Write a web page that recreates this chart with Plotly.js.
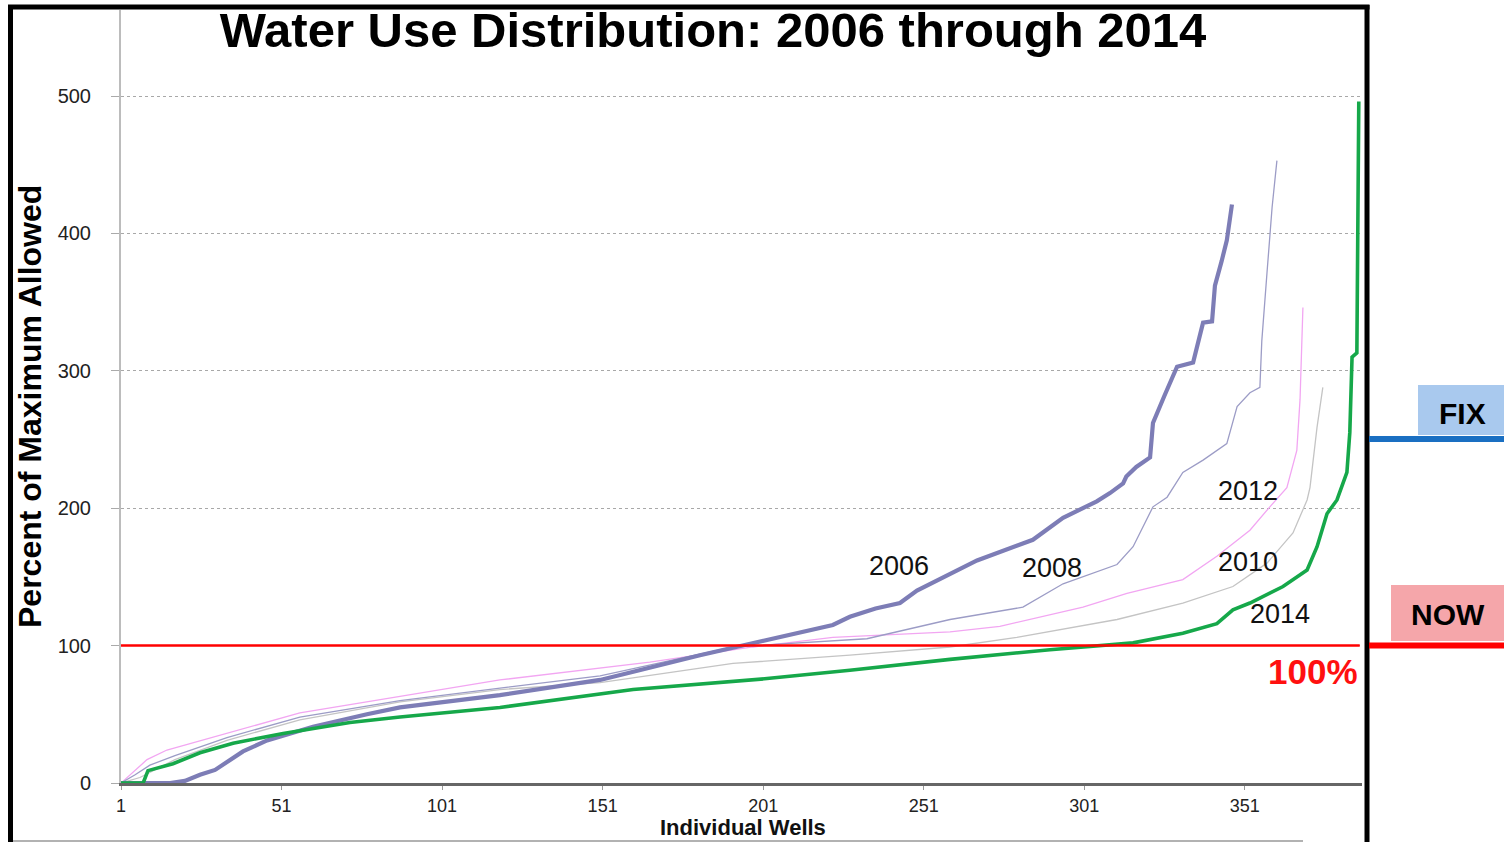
<!DOCTYPE html>
<html>
<head>
<meta charset="utf-8">
<script src="https://cdn.plot.ly/plotly-3.0.1.min.js"></script>
<style>html,body{margin:0;padding:0;background:#fff;}#chart{width:1504px;height:842px;}</style>
</head>
<body>
<div id="chart"></div>
<script>
// ---- data ----
const wells2006 = [1, 16.3, 20.9, 25.6, 30.3, 34.0, 39.0, 46.5, 60.8, 77.6, 87.9, 119.0, 150.2, 181.3, 197.8, 222.7, 228.0, 236.0, 243.6, 248.9, 267.6, 285.0, 294.4, 300.6, 304.9, 309.0, 313.1, 314.1, 317.2, 321.5, 322.4, 326.0, 329.9, 334.9, 338.0, 340.8, 341.7, 343.8, 345.4, 347.0];
const use2006   = [0, 0, 1.5, 6, 9.5, 15, 23, 31, 41, 50, 55, 64, 75, 93, 102, 115, 121, 127, 131, 140, 162, 177, 193, 200, 205, 211, 218, 223, 230, 237, 262, 282, 303, 306, 335, 336, 362, 380, 395, 421];

const wells2008 = [1, 5.4, 10, 17.8, 34, 56.7, 87.9, 119, 150.2, 191.6, 233.3, 259.2, 281.9, 294.4, 311.2, 316.2, 319.3, 322.4, 326.8, 331.7, 338, 345.4, 348.6, 352.6, 355.7, 356.3, 357.9, 359.5, 361];
const use2008   = [0, 6, 13, 20, 33, 48, 60, 69, 78, 99, 105, 119, 128, 145, 159, 172, 186, 201, 208, 226, 235, 247, 274, 284, 288, 322, 371, 419, 453];

const wells2010 = [1, 5.4, 9.1, 15.3, 34, 56.7, 87.9, 119, 165.7, 197.8, 222.7, 259.2, 274.7, 300.6, 314.3, 331.7, 342.3, 352.6, 358.8, 364.1, 367.2, 368.2, 369.1];
const use2010   = [0, 9, 17, 24, 36, 51, 63, 75, 88, 99, 106, 110, 114, 128, 138, 148, 165, 184, 201, 215, 242, 279, 346];

const wells2012 = [1, 6.9, 17.8, 34, 56.7, 87.9, 119, 150.2, 191.6, 228, 259.2, 280, 311.2, 331.7, 347.3, 357.9, 366, 370.4, 371.3, 373.5, 375.3];
const use2012   = [0, 4, 17, 31, 46, 59, 68, 73, 87, 93, 99, 106, 119, 131, 143, 160, 182, 206, 215, 259, 288];

const wells2014 = [1, 7.9, 9.4, 17.2, 25.6, 35.9, 51.5, 72.3, 87.9, 119, 160.5, 202.2, 228, 259.2, 290.3, 316.2, 331.7, 342.3, 347.3, 352.6, 362.9, 370.4, 373.5, 376.6, 379.7, 382.8, 383.7, 384.4, 385.9, 386.5];
const use2014   = [0, 0, 9, 14, 22, 29, 36, 44, 48, 55, 68, 76, 82, 90, 97, 102, 109, 116, 126, 131, 143, 155, 172, 196, 206, 226, 255, 310, 313, 496];

const yearLabels = ["2006", "2008", "2012", "2010", "2014"];
const labelX = [243.3, 290.9, 352.0, 352.0, 362.0];
const labelY = [157.9, 156.5, 212.5, 160.8, 123.0];
const limitValue = 100;

// ---- traces ----
const traces = [
  {x: wells2012, y: use2012, name: "2012", mode: "lines", line: {color: "#c4c4c4", width: 1.3}},
  {x: wells2010, y: use2010, name: "2010", mode: "lines", line: {color: "#f2a6f2", width: 1.3}},
  {x: wells2008, y: use2008, name: "2008", mode: "lines", line: {color: "#9c9cc6", width: 1.3}},
  {x: wells2006, y: use2006, name: "2006", mode: "lines", line: {color: "#7d7db6", width: 4.2}},
  {x: wells2014, y: use2014, name: "2014", mode: "lines", line: {color: "#16a84a", width: 3.6}}
];

const font = "Liberation Sans, Arial, sans-serif";
const px = v => (v - 121) / 1241;
const py = v => (783 - v) / 773;

const annotations = yearLabels.map((t, i) => ({
  text: t, x: labelX[i], y: labelY[i], xref: "x", yref: "y",
  xanchor: "center", yanchor: "middle",
  showarrow: false, font: {family: font, size: 27, color: "#111"}
}));
annotations.push(
  {text: "<b>100%</b>", x: 372.2, y: 80.8, xref: "x", yref: "y", showarrow: false,
   xanchor: "center", yanchor: "middle",
   font: {family: font, size: 35, color: "#ff1010"}},
  {text: "<b>Percent of Maximum Allowed</b>", textangle: -90, x: px(30), y: py(407),
   xref: "paper", yref: "paper", showarrow: false, xanchor: "center", yanchor: "middle",
   font: {family: font, size: 32, color: "#000"}},
  {text: "<b>Individual Wells</b>", x: px(743), y: py(828), xref: "paper", yref: "paper",
   showarrow: false, xanchor: "center", yanchor: "middle",
   font: {family: font, size: 22, color: "#111"}},
  {text: "<b>FIX</b>", x: px(1462), y: py(413), xref: "paper", yref: "paper",
   xanchor: "center", yanchor: "middle",
   showarrow: false, font: {family: font, size: 30, color: "#000"}},
  {text: "<b>NOW</b>", x: px(1448), y: py(614), xref: "paper", yref: "paper",
   xanchor: "center", yanchor: "middle",
   showarrow: false, font: {family: font, size: 30, color: "#000"}}
);

const shapes = [
  // 100% limit line
  {type: "line", xref: "x", yref: "y", x0: 1, x1: 386.8, y0: limitValue, y1: limitValue,
   line: {color: "#ff0000", width: 2.5}},
  // outer black frame
  {type: "line", xref: "paper", yref: "paper", x0: px(10.5), x1: px(10.5), y0: py(5), y1: py(860), line: {color: "#000", width: 5}},
  {type: "line", xref: "paper", yref: "paper", x0: px(8), x1: px(1369.5), y0: py(7), y1: py(7), line: {color: "#000", width: 5}},
  {type: "line", xref: "paper", yref: "paper", x0: px(1367), x1: px(1367), y0: py(5), y1: py(860), line: {color: "#000", width: 5}},
  // bottom cut edge
  {type: "line", xref: "paper", yref: "paper", x0: px(13), x1: px(1303), y0: py(841), y1: py(841), line: {color: "#999", width: 1.5}},
  // FIX box and blue line
  {type: "rect", xref: "paper", yref: "paper", x0: px(1418), x1: px(1504), y0: py(435), y1: py(385),
   fillcolor: "#a9c9ee", line: {width: 0}},
  {type: "line", xref: "paper", yref: "paper", x0: px(1369), x1: px(1504), y0: py(439), y1: py(439),
   line: {color: "#1a6fc2", width: 6}},
  // NOW box and red line
  {type: "rect", xref: "paper", yref: "paper", x0: px(1391), x1: px(1504), y0: py(641), y1: py(585),
   fillcolor: "#f5a6aa", line: {width: 0}},
  {type: "line", xref: "paper", yref: "paper", x0: px(1369), x1: px(1504), y0: py(645.5), y1: py(645.5),
   line: {color: "#ff0000", width: 6}}
];

const layout = {
  width: 1504, height: 842,
  margin: {l: 121, r: 142, t: 10, b: 59, pad: 0},
  paper_bgcolor: "#fff", plot_bgcolor: "#fff",
  showlegend: false,
  title: {text: "<b>Water Use Distribution: 2006 through 2014</b>",
    xref: "paper", x: 0.477, xanchor: "center", yref: "container", y: 1 - 30/842, yanchor: "middle",
    font: {family: font, size: 49, color: "#000"}},
  xaxis: {range: [1, 387.5], tick0: 1, dtick: 50, showgrid: false, zeroline: false,
    showline: true, linecolor: "#666", linewidth: 2.5,
    ticks: "outside", ticklen: 4, tickcolor: "#999", tickwidth: 1,
    ticklabelstandoff: 1,
    tickfont: {family: font, size: 18, color: "#222"}},
  yaxis: {range: [0, 562.6], tick0: 0, dtick: 100, showgrid: true, gridcolor: "#a8a8a8",
    griddash: "dot", gridwidth: 1, zeroline: false,
    showline: true, linecolor: "#bcbcbc", linewidth: 2,
    ticks: "outside", ticklen: 8, tickcolor: "#aaa", tickwidth: 1,
    ticklabelstandoff: 16,
    tickfont: {family: font, size: 20, color: "#222"}},
  annotations: annotations,
  shapes: shapes
};

Plotly.newPlot("chart", traces, layout, {staticPlot: true, displayModeBar: false});
</script>
</body>
</html>
